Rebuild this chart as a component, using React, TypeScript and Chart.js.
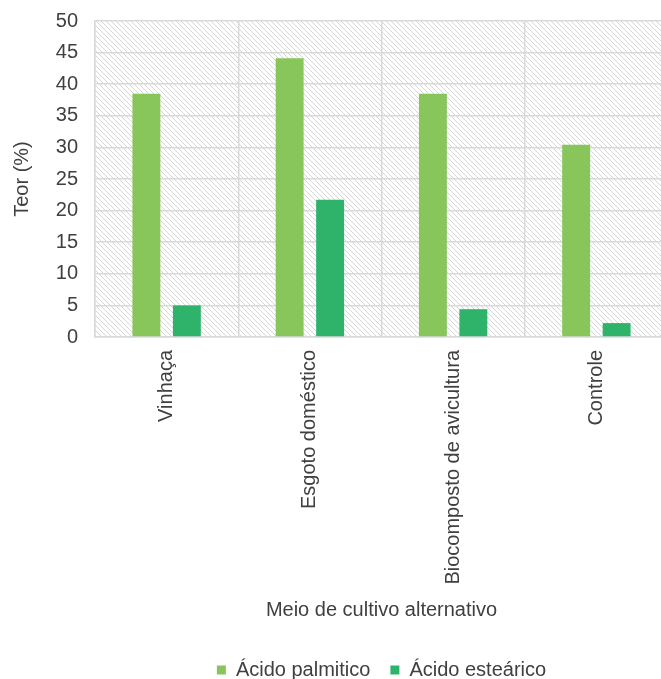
import React, { useEffect, useRef } from "react";
import { Chart, registerables } from "chart.js";

Chart.register(...registerables);

const categories = ["Vinhaça", "Esgoto doméstico", "Biocomposto de avicultura", "Controle"];
const acidoPalmitico = [38.5, 44.1, 38.5, 30.4];
const acidoEstearico = [5.0, 21.7, 4.4, 2.2];
const seriesNames = ["Ácido palmitico", "Ácido esteárico"];

const FONT = "'Liberation Sans', Arial, sans-serif";
const TEXT = "#404040";
const GRID = "#d9d9d9";

const hatchPlugin = {
  id: "hatchBg",
  beforeDraw(chart: any) {
    const { ctx, chartArea } = chart;
    if (!chartArea) return;
    const s = 5;
    const pc = document.createElement("canvas");
    pc.width = s;
    pc.height = s;
    const p = pc.getContext("2d")!;
    p.fillStyle = "#ffffff";
    p.fillRect(0, 0, s, s);
    p.strokeStyle = "#d6d6d6";
    p.lineWidth = 1;
    p.beginPath();
    p.moveTo(-1, -1);
    p.lineTo(s + 1, s + 1);
    p.moveTo(-1, s - 1);
    p.lineTo(1, s + 1);
    p.moveTo(s - 1, -1);
    p.lineTo(s + 1, 1);
    p.stroke();
    const pattern = ctx.createPattern(pc, "repeat");
    ctx.save();
    ctx.fillStyle = pattern;
    ctx.fillRect(chartArea.left, chartArea.top, chartArea.right - chartArea.left, chartArea.bottom - chartArea.top);
    ctx.restore();
  },
};

export default function App() {
  const ref = useRef<HTMLCanvasElement>(null);
  useEffect(() => {
    document.body.style.overflow = "hidden";
    const chart = new Chart(ref.current!, {
      type: "bar",
      data: {
        labels: categories,
        datasets: [
          {
            label: seriesNames[0],
            data: acidoPalmitico,
            backgroundColor: "#88c55a",
            categoryPercentage: 0.565,
            barPercentage: 0.69,
          },
          {
            label: seriesNames[1],
            data: acidoEstearico,
            backgroundColor: "#2fb36a",
            categoryPercentage: 0.565,
            barPercentage: 0.69,
          },
        ],
      },
      options: {
        responsive: false,
        animation: false,
        layout: { padding: { top: 21, right: 8, left: 0, bottom: 0 } },
        plugins: {
          legend: {
            position: "bottom",
            fullSize: false,
            labels: {
              boxWidth: 9,
              boxHeight: 9,
              padding: 20,
              color: TEXT,
              font: { family: FONT, size: 20 },
            },
          },
          tooltip: { enabled: false },
        },
        scales: {
          x: {
            grid: { color: GRID, lineWidth: 1.5, drawTicks: false, offset: true },
            border: { display: true, color: GRID, width: 1.5 },
            ticks: {
              color: TEXT,
              font: { family: FONT, size: 20 },
              maxRotation: 90,
              minRotation: 90,
              padding: 13,
              autoSkip: false,
            },
            title: {
              display: true,
              text: "Meio de cultivo alternativo",
              color: TEXT,
              font: { family: FONT, size: 20 },
              padding: { top: 0, bottom: 18 },
            },
            afterFit(scale: any) {
              scale.height = 303;
            },
          },
          y: {
            min: 0,
            max: 50,
            ticks: {
              stepSize: 5,
              color: TEXT,
              font: { family: FONT, size: 20 },
              padding: 17,
            },
            grid: { color: GRID, lineWidth: 1.5, drawTicks: false },
            border: { display: true, color: GRID, width: 1.5 },
            title: {
              display: true,
              text: "Teor (%)",
              color: TEXT,
              font: { family: FONT, size: 20 },
              padding: { top: 10, bottom: 0 },
            },
            afterFit(scale: any) {
              scale.width = 95;
              scale.paddingTop = 0;
              scale.paddingBottom = 0;
            },
          },
        },
      },
      plugins: [hatchPlugin],
    });
    return () => chart.destroy();
  }, []);
  return (
    <div style={{ position: "absolute", left: 0, top: 0, width: 661, height: 679, overflow: "hidden" }}>
      <canvas ref={ref} width={676} height={690} style={{ display: "block" }} />
    </div>
  );
}
